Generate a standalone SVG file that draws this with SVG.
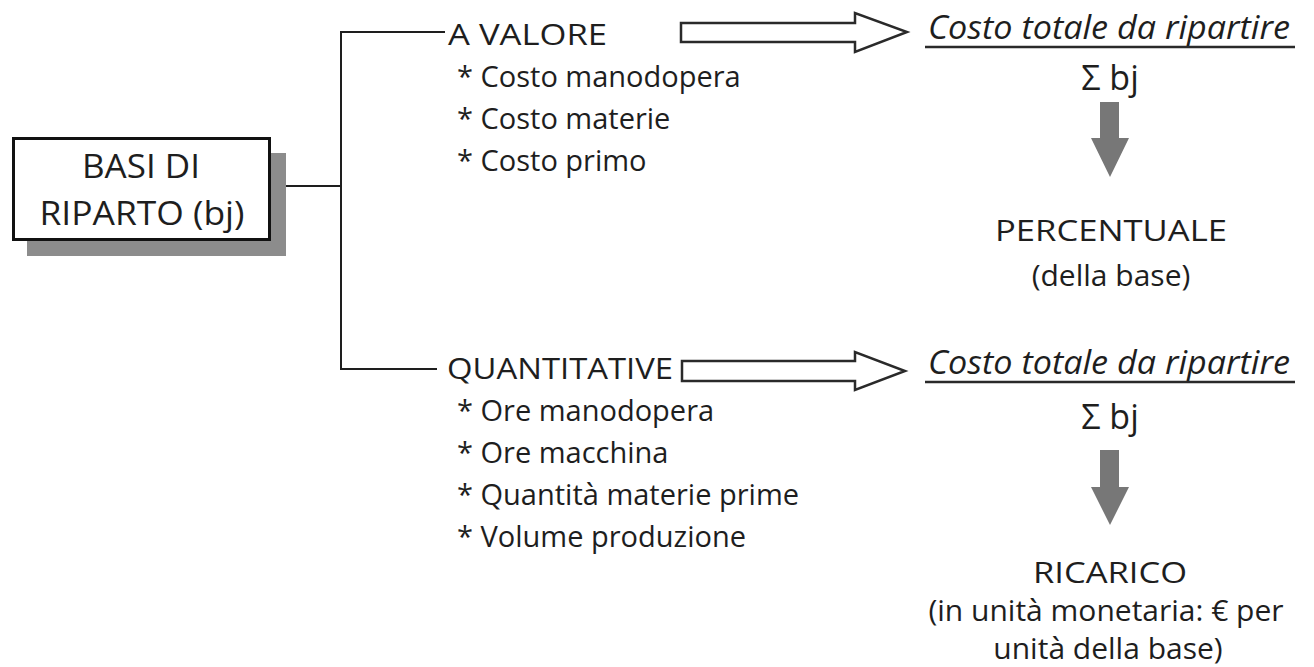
<svg xmlns="http://www.w3.org/2000/svg" width="1314" height="667" viewBox="0 0 1314 667">
<style>
text{font-family:"Open Sans","Liberation Sans",sans-serif;fill:#1e1e1e}
.t{font-size:29px}
.c{font-size:30px;text-anchor:middle}
.s{font-size:34px;text-anchor:middle}
.i{font-size:32px;font-style:italic}
.b{font-size:33px;text-anchor:middle}
.ln{fill:none;stroke:#1e1e1e;stroke-width:2}
.ha{fill:#fff;stroke:#2a2a2a;stroke-width:2.5;stroke-linejoin:miter}
.ga{fill:#777}
.ul{stroke:#2a2a2a;stroke-width:2.5}
</style>
<rect width="1314" height="667" fill="#fff"/>
<g id="basi">
<rect x="27" y="153" width="259" height="103" fill="#8c8c8c"/>
<rect x="13.5" y="138.5" width="256" height="101" fill="#fff" stroke="#111" stroke-width="3"/>
<text class="b" x="141" y="178" textLength="118" lengthAdjust="spacingAndGlyphs">BASI DI</text>
<text class="b" x="142" y="225" textLength="205" lengthAdjust="spacingAndGlyphs">RIPARTO (bj)</text>
</g>
<g id="connectors">
<path class="ln" d="M286 186H341M445 32H341V369H437"/>
<polygon class="ha" points="681,23 855,23 855,13 907,32 855,52 855,42 681,42"/>
<polygon class="ha" points="682,361 855,361 855,352 905,371 855,390 855,381 682,381"/>
<polygon class="ga" points="1100,102 1119,102 1119,138 1129,138 1110,177 1091,138 1100,138"/>
<polygon class="ga" points="1100,450 1119,450 1119,487 1129,487 1110,525 1091,487 1100,487"/>
</g>
<g id="valore">
<text class="t" x="448" y="45" textLength="159" lengthAdjust="spacingAndGlyphs">A VALORE</text>
<text class="t" x="457" y="87">* Costo manodopera</text>
<text class="t" x="457" y="129">* Costo materie</text>
<text class="t" x="457" y="171">* Costo primo</text>
</g>
<g id="quantitative">
<text class="t" x="447" y="379" textLength="226" lengthAdjust="spacingAndGlyphs">QUANTITATIVE</text>
<text class="t" x="457" y="421">* Ore manodopera</text>
<text class="t" x="457" y="463">* Ore macchina</text>
<text class="t" x="457" y="505">* Quantità materie prime</text>
<text class="t" x="457" y="547">* Volume produzione</text>
</g>
<g id="formula1">
<text class="i" x="928" y="39" textLength="362" lengthAdjust="spacingAndGlyphs">Costo totale da ripartire</text>
<line class="ul" x1="925" y1="47" x2="1295" y2="47"/>
<text class="s" x="1110" y="90">Σ bj</text>
</g>
<g id="percentuale">
<text class="c" x="1111" y="241" textLength="232" lengthAdjust="spacingAndGlyphs">PERCENTUALE</text>
<text class="c" x="1111" y="286">(della base)</text>
</g>
<g id="formula2">
<text class="i" x="928" y="374" textLength="362" lengthAdjust="spacingAndGlyphs">Costo totale da ripartire</text>
<line class="ul" x1="925" y1="382" x2="1295" y2="382"/>
<text class="s" x="1110" y="429">Σ bj</text>
</g>
<g id="ricarico">
<text class="c" x="1110" y="583" textLength="154" lengthAdjust="spacingAndGlyphs">RICARICO</text>
<text class="c" x="1106" y="621">(in unità monetaria: € per</text>
<text class="c" x="1108" y="659">unità della base)</text>
</g>
</svg>
